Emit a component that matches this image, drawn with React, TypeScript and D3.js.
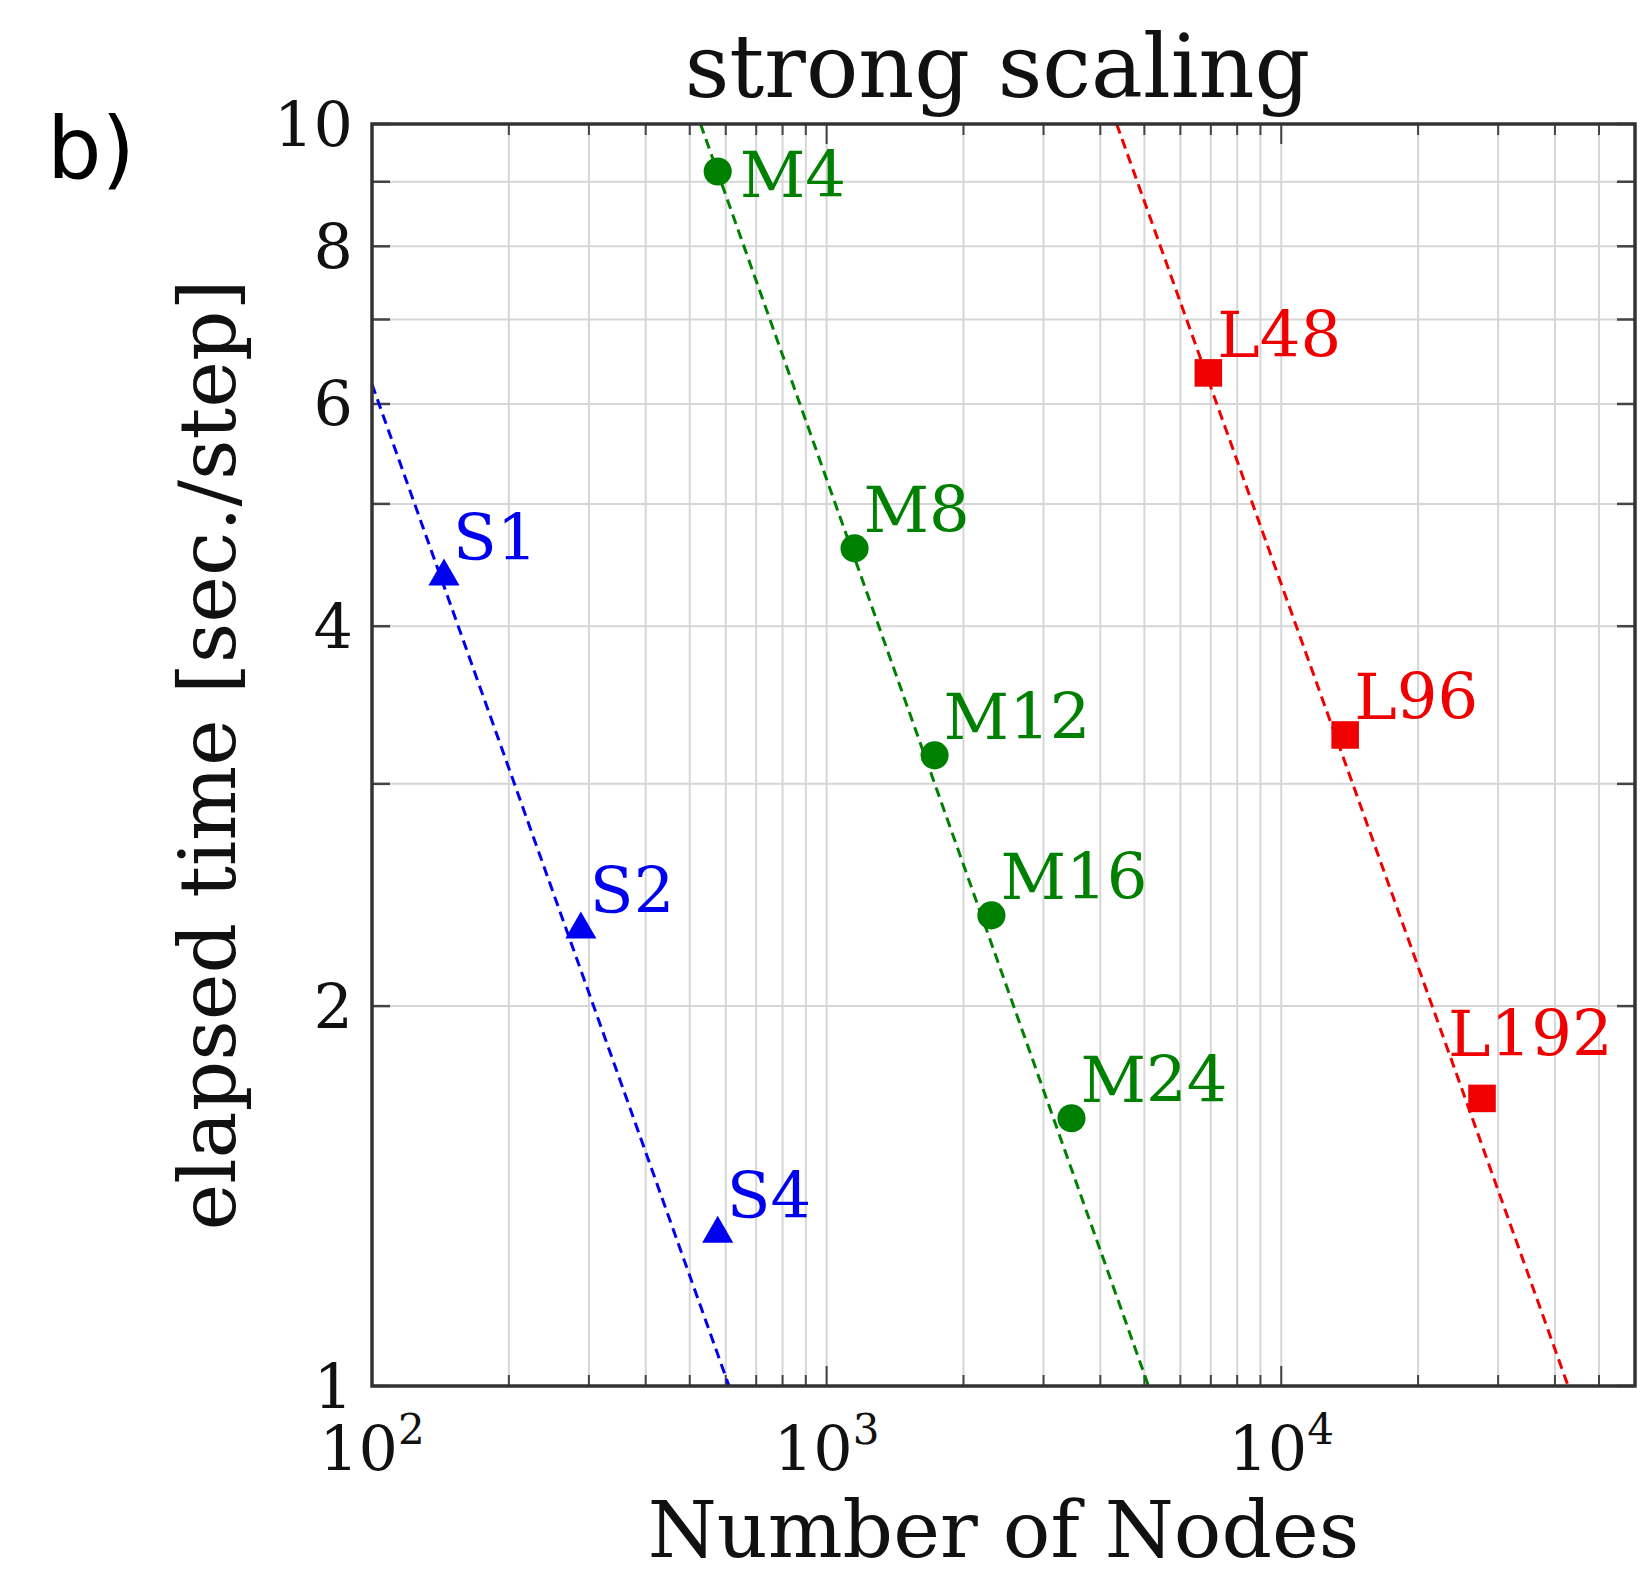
import React from 'react';
import * as d3 from 'd3';

// nodes vs elapsed time per step
const nodesS = [144, 288, 576];
const timeS = [4.38, 2.3, 1.32];
const labelsS = ['S1', 'S2', 'S4'];

const nodesM = [576, 1152, 1728, 2304, 3456];
const timeM = [9.17, 4.61, 3.16, 2.36, 1.63];
const labelsM = ['M4', 'M8', 'M12', 'M16', 'M24'];

const nodesL = [6912, 13824, 27648];
const timeL = [6.35, 3.28, 1.69];
const labelsL = ['L48', 'L96', 'L192'];

// ideal scaling lines (end points where they cross the frame)
const idealS = [[100, 6.22], [610, 1]];
const idealM = [[528, 10], [5105, 1]];
const idealL = [[4345, 10], [42760, 1]];

const yTickLabels = [1, 2, 4, 6, 8, 10];
const xTickLabels = [[100, '2'], [1000, '3'], [10000, '4']];

const W = 1652;
const H = 1576;
const left = 372, right = 1635, top = 124, bottom = 1386;
const serif = '"DejaVu Serif", serif';

const labelShift = { M4: [22, 26], L192: [-34, -42] };

const App = () => {
  const x = d3.scaleLog().domain([100, 6e4]).range([left, right]);
  const y = d3.scaleLog().domain([1, 10]).range([bottom, top]);

  const xGrid = x.ticks().filter(v => v > 100 && v < 6e4);
  const yGrid = y.ticks();
  const isMajor = v => Math.abs(Math.log10(v) - Math.round(Math.log10(v))) < 1e-9;

  const line = d3.line().x(d => x(d[0])).y(d => y(d[1]));

  const series = [
    { nodes: nodesS, time: timeS, labels: labelsS, ideal: idealS, color: '#0000f0', shape: d3.symbolTriangle, size: 420 },
    { nodes: nodesM, time: timeM, labels: labelsM, ideal: idealM, color: '#008000', shape: d3.symbolCircle, size: 620 },
    { nodes: nodesL, time: timeL, labels: labelsL, ideal: idealL, color: '#f00000', shape: d3.symbolSquare, size: 760 },
  ];

  return (
    <div style={{ position: 'absolute', left: 0, top: 0 }}>
      <svg width={W} height={H} style={{ display: 'block', background: '#fff' }}>
        <text x={47} y={178} fontFamily='"DejaVu Sans", sans-serif' fontSize={86} fill="#000">b)</text>
        <text x={(left + right) / 2 - 6} y={97} textAnchor="middle" fontFamily={serif} fontSize={87} fill="#111">strong scaling</text>

        {/* grid */}
        {xGrid.map(v => (
          <line key={'gx' + v} x1={x(v)} x2={x(v)} y1={top} y2={bottom} stroke="#d6d6d6" strokeWidth={2} />
        ))}
        {yGrid.map(v => (
          <line key={'gy' + v} x1={left} x2={right} y1={y(v)} y2={y(v)} stroke="#d6d6d6" strokeWidth={2} />
        ))}

        {/* ticks, inward on all four sides */}
        {xGrid.map(v => {
          const len = isMajor(v) ? 20 : 11;
          return (
            <g key={'tx' + v} stroke="#444" strokeWidth={2}>
              <line x1={x(v)} x2={x(v)} y1={bottom} y2={bottom - len} />
              <line x1={x(v)} x2={x(v)} y1={top} y2={top + len} />
            </g>
          );
        })}
        {yGrid.map(v => (
          <g key={'ty' + v} stroke="#444" strokeWidth={2.5}>
            <line x1={left} x2={left + 18} y1={y(v)} y2={y(v)} />
            <line x1={right} x2={right - 18} y1={y(v)} y2={y(v)} />
          </g>
        ))}

        {/* ideal lines */}
        {series.map((s, i) => (
          <path key={'l' + i} d={line(s.ideal)} fill="none" stroke={s.color} strokeWidth={3} strokeDasharray="10,6" />
        ))}

        {/* markers + labels */}
        {series.map((s, i) => (
          <g key={'s' + i}>
            {s.nodes.map((n, j) => (
              <path key={j} transform={`translate(${x(n)},${y(s.time[j])})`} d={d3.symbol(s.shape, s.size)()} fill={s.color} />
            ))}
            {s.nodes.map((n, j) => {
              const off = labelShift[s.labels[j]] || [9, -16];
              return (
                <text key={'t' + j} x={x(n) + off[0]} y={y(s.time[j]) + off[1]} fontFamily={serif} fontSize={64} fill={s.color}>
                  {s.labels[j]}
                </text>
              );
            })}
          </g>
        ))}

        {/* frame */}
        <rect x={left} y={top} width={right - left} height={bottom - top} fill="none" stroke="#333" strokeWidth={3.5} />

        {/* tick labels */}
        {yTickLabels.map(v => (
          <text key={'yl' + v} x={left - 19} y={y(v)} textAnchor="end" dominantBaseline="central" fontFamily={serif} fontSize={62} fill="#111">
            {v}
          </text>
        ))}
        {xTickLabels.map(([v, e]) => (
          <text key={'xl' + v} x={x(v)} y={1470} textAnchor="middle" fontFamily={serif} fontSize={62} fill="#111">
            10<tspan fontSize={42} dy={-26}>{e}</tspan>
          </text>
        ))}

        <text x={(left + right) / 2} y={1557} textAnchor="middle" fontFamily={serif} fontSize={79} fill="#111">Number of Nodes</text>
        <text transform={`translate(235,${(top + bottom) / 2}) rotate(-90)`} textAnchor="middle" fontFamily={serif} fontSize={79} fill="#111">
          elapsed time [sec./step]
        </text>
      </svg>
    </div>
  );
};

export default App;
